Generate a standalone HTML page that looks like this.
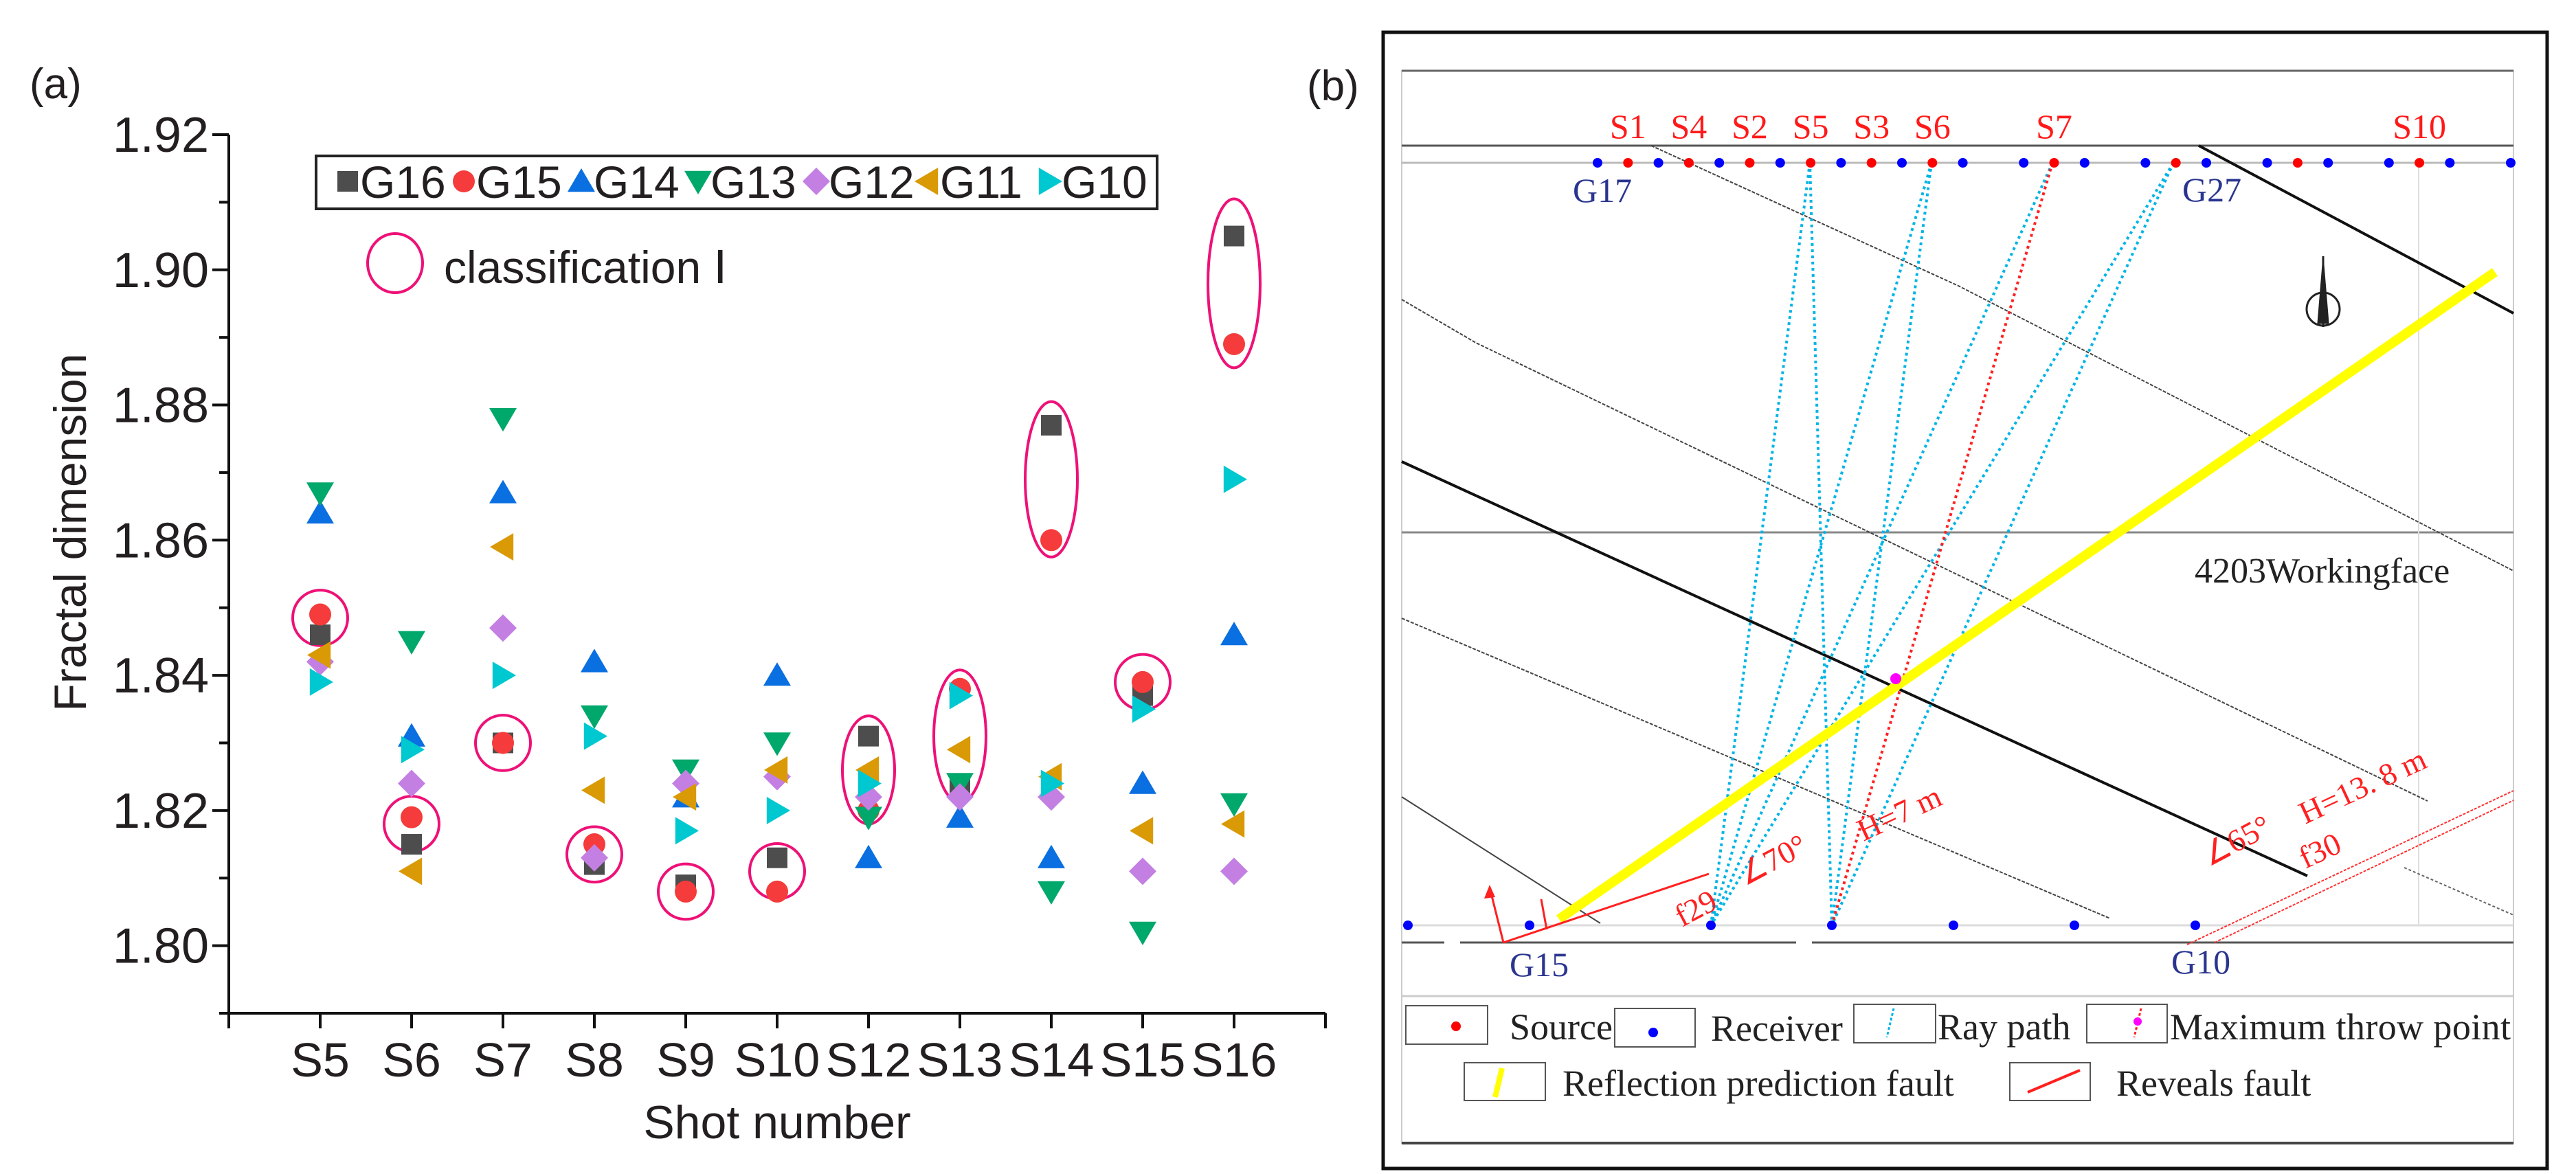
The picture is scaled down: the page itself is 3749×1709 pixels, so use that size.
<!DOCTYPE html>
<html><head><meta charset="utf-8"><style>
html,body{margin:0;padding:0;background:#fff;}
svg{display:block;}
.sans{font-family:"Liberation Sans",sans-serif;fill:#231f20;}
.serif{font-family:"Liberation Serif",serif;}
</style></head><body>
<svg id="fig" width="3749" height="1709" viewBox="0 0 3749 1709" xmlns="http://www.w3.org/2000/svg">
<g id="panelA">
  <text class="sans" x="43" y="143" font-size="62">(a)</text>
  <g id="axes"></g>
  <g id="ellipses"></g>
  <g id="marks"></g>
  <text class="sans" transform="translate(125,775) rotate(-90)" text-anchor="middle" font-size="66">Fractal dimension</text>
  <text class="sans" x="1131" y="1657" text-anchor="middle" font-size="68">Shot number</text>
  <rect x="460" y="227" width="1224" height="77" fill="none" stroke="#222" stroke-width="4"/>
  <g id="legend"></g>
  <ellipse cx="575" cy="383" rx="40" ry="43" fill="none" stroke="#ee1177" stroke-width="4"/>
  <text class="sans" x="646" y="412" font-size="66">classification Ⅰ</text>
</g>

<g id="panelB">
  <text class="sans" x="1902" y="146" font-size="62">(b)</text>
  <rect x="2013" y="47" width="1694" height="1654" fill="none" stroke="#111" stroke-width="5"/>
  <rect x="2040" y="103" width="1618" height="1561" fill="none" stroke="#ccc" stroke-width="2"/>
  <line x1="2040" y1="103" x2="3658" y2="103" stroke="#666" stroke-width="3"/>
  <line x1="2040" y1="1664" x2="3658" y2="1664" stroke="#444" stroke-width="4"/>
  <line x1="2040" y1="212" x2="3658" y2="212" stroke="#555" stroke-width="3"/>
  <line x1="2040" y1="237" x2="3658" y2="237" stroke="#bbb" stroke-width="3"/>
  <line x1="2040" y1="775" x2="3658" y2="775" stroke="#888" stroke-width="3"/>
  <line x1="3520" y1="237" x2="3520" y2="1347" stroke="#ddd" stroke-width="2"/>
  <line x1="2040" y1="1347" x2="3658" y2="1347" stroke="#ddd" stroke-width="3"/>
  <g stroke="#555" stroke-width="3">
    <line x1="2040" y1="1372" x2="2102" y2="1372"/><line x1="2125" y1="1372" x2="2614" y2="1372"/><line x1="2637" y1="1372" x2="3658" y2="1372"/>
  </g>
  <line x1="2040" y1="1450" x2="3658" y2="1450" stroke="#ccc" stroke-width="3"/>
  <!-- geological lines -->
  <g fill="none">
    <polyline points="2403,212 2850,416 3658,831" stroke="#444" stroke-width="2" stroke-dasharray="5,2"/>
    <polyline points="2040,436 2148,499 3533,1166" stroke="#444" stroke-width="2" stroke-dasharray="5,2"/>
    <line x1="2040" y1="672" x2="3358" y2="1275" stroke="#111" stroke-width="4"/>
    <line x1="3200" y1="212" x2="3658" y2="456" stroke="#111" stroke-width="4"/>
    <line x1="2040" y1="900" x2="3071" y2="1337" stroke="#444" stroke-width="2" stroke-dasharray="5,2"/>
    <line x1="2040" y1="1160" x2="2329" y2="1344" stroke="#444" stroke-width="2"/>
    <line x1="3499" y1="1263" x2="3658" y2="1332" stroke="#666" stroke-width="2" stroke-dasharray="4,3"/>
  </g>
  <g id="rays"></g>
  <line x1="2269" y1="1338" x2="3631" y2="396" stroke="#ffff00" stroke-width="14"/>
  <circle cx="2759" cy="988" r="8" fill="#ff00ff"/>
  <!-- f29 -->
  <g stroke="#ff2020" stroke-width="3" fill="none">
    <line x1="2188" y1="1372" x2="2487" y2="1272"/>
    <line x1="2188" y1="1372" x2="2170" y2="1300"/>
    <line x1="2243" y1="1309" x2="2251" y2="1353"/>
  </g>
  <polygon points="2168,1288 2160,1308 2176,1306" fill="#ff2020"/>
  <g class="serif" fill="#ff2020" font-size="46">
    <text transform="translate(2448,1350) rotate(-28)">f29</text>
    <text transform="translate(2540,1290) rotate(-28)">∠70°</text>
    <text transform="translate(2712,1225) rotate(-25)">H=7 m</text>
    <text transform="translate(3215,1262) rotate(-28)">∠65°</text>
    <text transform="translate(3355,1200) rotate(-25)">H=13. 8 m</text>
    <text transform="translate(3355,1265) rotate(-25)">f30</text>
  </g>
  <g stroke="#ff3030" stroke-width="2" stroke-dasharray="4,2">
    <line x1="3183" y1="1375" x2="3658" y2="1151"/>
    <line x1="3223" y1="1372" x2="3658" y2="1165"/>
  </g>
  <g id="dots"></g>
  <g class="serif" font-size="50">
    <text x="2289" y="294" fill="#2a3590">G17</text>
    <text x="3176" y="293" fill="#2a3590">G27</text>
    <text x="2197" y="1421" fill="#2a3590">G15</text>
    <text x="3160" y="1417" fill="#2a3590">G10</text>
    <text x="3194" y="848" fill="#222" font-size="52">4203Workingface</text>
  </g>
  <g stroke="#222" fill="none" stroke-width="3">
    <line x1="3381" y1="373" x2="3381" y2="476"/>
    <ellipse cx="3381" cy="450" rx="24" ry="24"/>
    <path d="M3381 385 L3388 470 L3374 470 Z" fill="#222"/>
  </g>
  <!-- legend -->
  <g>
    <g fill="none" stroke="#555" stroke-width="2">
      <rect x="2046" y="1464" width="119" height="56"/>
      <rect x="2350" y="1468" width="117" height="56"/>
      <rect x="2698" y="1462" width="119" height="56"/>
      <rect x="3037" y="1462" width="117" height="56"/>
      <rect x="2131" y="1547" width="118" height="55"/>
      <rect x="2925" y="1547" width="117" height="55"/>
    </g>
    <circle cx="2119" cy="1494" r="7" fill="#ff0000"/>
    <circle cx="2406" cy="1503" r="7" fill="#0000ff"/>
    <line x1="2756" y1="1468" x2="2746" y2="1510" stroke="#00b4e6" stroke-width="3" stroke-dasharray="4,3"/>
    <line x1="3116" y1="1468" x2="3106" y2="1510" stroke="#ff2020" stroke-width="3" stroke-dasharray="4,3"/>
    <circle cx="3111" cy="1487" r="6" fill="#ff00ff"/>
    <line x1="2186" y1="1555" x2="2176" y2="1597" stroke="#ffff00" stroke-width="8"/>
    <line x1="2951" y1="1590" x2="3027" y2="1558" stroke="#ff2020" stroke-width="4"/>
    <g class="serif" fill="#222" font-size="54">
      <text x="2197" y="1513">Source</text>
      <text x="2490" y="1515">Receiver</text>
      <text x="2820" y="1513">Ray path</text>
      <text x="3158" y="1513" textLength="496">Maximum throw point</text>
      <text x="2274" y="1595">Reflection prediction fault</text>
      <text x="3080" y="1595">Reveals fault</text>
    </g>
  </g>
</g>
</svg>
<script>
const categories = ["S5","S6","S7","S8","S9","S10","S12","S13","S14","S15","S16"];
const seriesNames = ["G16","G15","G14","G13","G12","G11","G10"];
const g16 = [1.846,1.815,1.830,1.812,1.809,1.813,1.831,1.824,1.877,1.837,1.905];
const g15 = [1.849,1.819,1.830,1.815,1.808,1.808,1.820,1.838,1.860,1.839,1.889];
const g14 = [1.864,1.831,1.867,1.842,1.822,1.840,1.813,1.819,1.813,1.824,1.846];
const g13 = [1.867,1.845,1.878,1.834,1.826,1.830,1.819,1.824,1.808,1.802,1.821];
const g12 = [1.842,1.824,1.847,1.813,1.824,1.825,1.822,1.822,1.822,1.811,1.811];
const g11 = [1.843,1.811,1.859,1.823,1.822,1.826,1.826,1.829,1.825,1.817,1.818];
const g10 = [1.839,1.829,1.840,1.831,1.817,1.820,1.824,1.837,1.824,1.835,1.869];
const yTicks = ["1.80","1.82","1.84","1.86","1.88","1.90","1.92"];
const ellipseCats = ["S5","S6","S7","S8","S9","S10","S12","S13","S14","S15","S16"];
const ellipseCenters = [1.8485,1.818,1.830,1.8135,1.808,1.811,1.826,1.831,1.869,1.839,1.898];
const ellipseHalfSpans = [0.0041,0.0041,0.0041,0.0041,0.0041,0.0041,0.008,0.0098,0.0115,0.0041,0.0125];
const raySources = [2634,2634,2811,2811,2987,3163,3163];
const rayReceivers = [2490,2666,2490,2666,2490,2490,2666];

const NS="http://www.w3.org/2000/svg";
function el(tag, attrs, parent){const e=document.createElementNS(NS,tag);for(const k in attrs)e.setAttribute(k,attrs[k]);parent.appendChild(e);return e;}
const X0=333, STEP=133, YMIN=1.79, YMAX=1.92, YTOP=196, YBOT=1475;
function xs(i){return X0+(i+1)*STEP;}
function ys(v){return YBOT-(v-YMIN)/(YMAX-YMIN)*(YBOT-YTOP);}

const axes=document.getElementById('axes');
let a=el('line',{x1:X0,y1:YTOP,x2:X0,y2:YBOT,stroke:'#111','stroke-width':4},axes);


a=el('line',{x1:X0-2,y1:YBOT,x2:X0+12*STEP,y2:YBOT,stroke:'#111','stroke-width':4},axes);


for(let k=0;k<=13;k++){
  const v=YMIN+k*0.01, y=ys(v), major=(k%2===1);
  el('line',{x1:X0-(major?24:14),y1:y,x2:X0,y2:y,stroke:'#111','stroke-width':4},axes);
}
yTicks.forEach(t=>{
  const tx=el('text',{x:304,y:ys(parseFloat(t))+25,'text-anchor':'end','font-size':72,class:'sans'},axes);
  tx.textContent=t;
  
  
});
for(let i=-1;i<=11;i++){const x=xs(i);el('line',{x1:x,y1:YBOT,x2:x,y2:YBOT+22,stroke:'#111','stroke-width':4},axes);}
categories.forEach((c,i)=>{
  const tx=el('text',{x:xs(i),y:1567,'text-anchor':'middle','font-size':70,class:'sans'},axes);
  tx.textContent=c;
  
  
});

const colors=["#4d4d4d","#f53b3b","#0a6fe0","#00a86b","#c47fe3","#d99a06","#00c8d0"];
const shapes=["square","circle","up","down","diamond","left","right"];
function marker(shape,x,y,color,parent){
  let e;const s=19;
  if(shape==='square')e=el('rect',{x:x-15,y:y-15,width:30,height:30,fill:color},parent);
  else if(shape==='circle')e=el('circle',{cx:x,cy:y,r:16,fill:color},parent);
  else{let p;
    if(shape==='up')p=[[x,y-s],[x+s+1,y+s*0.8],[x-s-1,y+s*0.8]];
    if(shape==='down')p=[[x,y+s],[x+s+1,y-s*0.8],[x-s-1,y-s*0.8]];
    if(shape==='left')p=[[x-s,y],[x+s*0.8,y-s-1],[x+s*0.8,y+s+1]];
    if(shape==='right')p=[[x+s,y],[x-s*0.8,y-s-1],[x-s*0.8,y+s+1]];
    if(shape==='diamond')p=[[x,y-20],[x+20,y],[x,y+20],[x-20,y]];
    e=el('polygon',{points:p.map(q=>q.join(',')).join(' '),fill:color},parent);}
  return e;
}
const allSeries=[g16,g15,g14,g13,g12,g11,g10];
const marks=document.getElementById('marks');
allSeries.forEach((arr,si)=>{
  const g=el('g',{},marks);
  
  
  arr.forEach((v,i)=>{
    const m=marker(shapes[si],xs(i),ys(v),colors[si],g);
    
    
  });
});
const ell=document.getElementById('ellipses');
ellipseCats.forEach((c,k)=>{
  const i=categories.indexOf(c);
  const ry=ellipseHalfSpans[k]/(YMAX-YMIN)*(YBOT-YTOP);
  const rx=ry>50?38:40;
  const e=el('ellipse',{cx:xs(i),cy:ys(ellipseCenters[k]),rx:rx,ry:ry,fill:'none',stroke:'#ee1177','stroke-width':4},ell);
  
  
});
const leg=document.getElementById('legend');
const legX=[506,675,846,1016,1188,1350,1527];
seriesNames.forEach((n,si)=>{
  const m=marker(shapes[si],legX[si],264,colors[si],leg);
  
  
  const t=el('text',{x:legX[si]+18,y:288,'font-size':66,class:'sans'},leg);
  t.textContent=n;
  
  
});

// panel b dots
const dots=document.getElementById('dots');
const topSlots="BRBRBRBRBRBRB.BRB.BRB.BRB.BRB.B";
const redLabels={1:"S1",3:"S4",5:"S2",7:"S5",9:"S3",11:"S6",15:"S7",27:"S10"};
for(let k=0;k<topSlots.length;k++){
  const c=topSlots[k]; if(c==='.')continue;
  const x=2325+k*44.3;
  const d=el('circle',{cx:x,cy:237,r:7,fill:c==='R'?'#ff0000':'#0000ff'},dots);
  
  
  if(redLabels[k]){
    const t=el('text',{x:x,y:201,'text-anchor':'middle','font-size':50,fill:'#ff1a1a',class:'serif'},dots);
    t.textContent=redLabels[k];
    
    
  }
}
[2049,2226,2490,2666,2843,3019,3195].forEach(x=>{
  const d=el('circle',{cx:x,cy:1347,r:7,fill:'#0000ff'},dots);
  
  
});
const rays=document.getElementById('rays');
raySources.forEach((sx,i)=>{
  const r=el('line',{x1:sx,y1:237,x2:rayReceivers[i],y2:1347,stroke:'#00b4e6','stroke-width':4,'stroke-dasharray':'4,5'},rays);
  
  
});
const rr=el('line',{x1:2987,y1:237,x2:2666,y2:1347,stroke:'#ff2020','stroke-width':4,'stroke-dasharray':'4,5'},rays);


</script>
</body></html>
